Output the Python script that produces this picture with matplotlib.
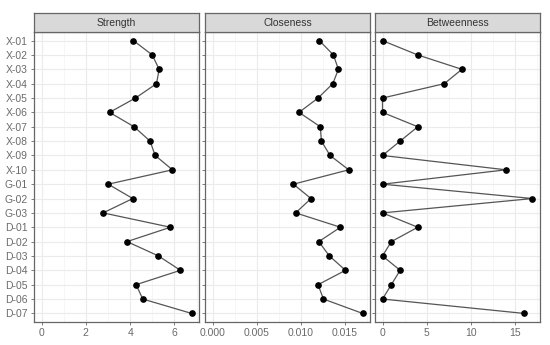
import matplotlib.pyplot as plt
from matplotlib.ticker import MultipleLocator

plt.rcParams['font.family'] = ['Liberation Sans', 'DejaVu Sans']

nodes = ["X-01", "X-02", "X-03", "X-04", "X-05", "X-06", "X-07", "X-08", "X-09", "X-10",
         "G-01", "G-02", "G-03", "D-01", "D-02", "D-03", "D-04", "D-05", "D-06", "D-07"]
strength = [4.15, 5.0, 5.31, 5.19, 4.24, 3.07, 4.18, 4.9, 5.13, 5.91,
            3.01, 4.12, 2.78, 5.82, 3.86, 5.28, 6.27, 4.27, 4.57, 6.77]
closeness = [0.01212, 0.01371, 0.01428, 0.01364, 0.01197, 0.00981, 0.01223, 0.01235, 0.01333, 0.01545,
             0.00917, 0.01117, 0.00943, 0.01451, 0.01205, 0.01326, 0.01508, 0.01197, 0.01258, 0.01701]
betweenness = [0, 4, 9, 7, 0, 0, 4, 2, 0, 14,
               0, 17, 0, 4, 1, 0, 2, 1, 0, 16]

titles = ["Strength", "Closeness", "Betweenness"]
series = [strength, closeness, betweenness]
majors = [2, 0.005, 5]
tick_fmt = ["{:.0f}", "{:.3f}", "{:.0f}"]

W, H = 550, 345
fig = plt.figure(figsize=(W / 100, H / 100), dpi=100)

lefts = [34, 205, 375]
pw = 165
top, bot, strip_top = 32, 322, 13

for i in range(3):
    ax = fig.add_axes([lefts[i] / W, 1 - bot / H, pw / W, (bot - top) / H])
    vals = series[i]
    ax.plot(vals, nodes, color="#555555", lw=0.9, zorder=3)
    ax.plot(vals, nodes, "o", color="black", ms=3.8, zorder=4)
    lo, hi = 0, max(vals)
    pad = (hi - lo) * 0.05
    ax.set_xlim(lo - pad, hi + pad)
    ax.set_ylim(len(nodes) - 0.4, -0.6)
    ax.xaxis.set_major_locator(MultipleLocator(majors[i]))
    ax.xaxis.set_minor_locator(MultipleLocator(majors[i] / 2))
    ax.set_xticks([t for t in ax.get_xticks() if lo - pad <= t <= hi + pad])
    ax.set_xticklabels([tick_fmt[i].format(t) for t in ax.get_xticks()])
    ax.grid(which="major", color="#ebebeb", lw=0.8, zorder=0)
    ax.grid(which="minor", axis="x", color="#f3f3f3", lw=0.5, zorder=0)
    ax.set_axisbelow(True)
    for s in ax.spines.values():
        s.set_color("#666666")
        s.set_linewidth(0.9)
    ax.tick_params(which="major", length=2.5, width=0.6, color="#666666",
                   labelcolor="#6a6a6a", labelsize=7.5, pad=2)
    ax.tick_params(which="minor", length=0)
    if i > 0:
        ax.tick_params(axis="y", labelleft=False)
    # strip
    sax = fig.add_axes([lefts[i] / W, 1 - top / H, pw / W, (top - strip_top) / H])
    sax.set_facecolor("#d9d9d9")
    sax.set_xticks([])
    sax.set_yticks([])
    for s in sax.spines.values():
        s.set_color("#666666")
        s.set_linewidth(0.9)
    sax.text(0.5, 0.5, titles[i], ha="center", va="center", fontsize=7.5,
             color="#333333", transform=sax.transAxes)

fig.savefig("out.png", dpi=100)
